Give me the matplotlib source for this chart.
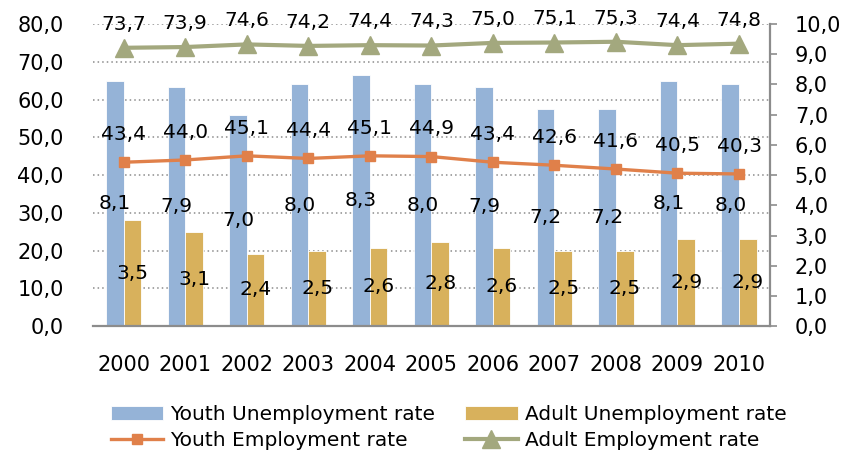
import numpy as np
import matplotlib
matplotlib.use("Agg")
import matplotlib.pyplot as plt

years = ['2000', '2001', '2002', '2003', '2004', '2005', '2006', '2007', '2008', '2009', '2010']
youth_unemp = [8.1, 7.9, 7.0, 8.0, 8.3, 8.0, 7.9, 7.2, 7.2, 8.1, 8.0]
adult_unemp = [3.5, 3.1, 2.4, 2.5, 2.6, 2.8, 2.6, 2.5, 2.5, 2.9, 2.9]
youth_emp = [43.4, 44.0, 45.1, 44.4, 45.1, 44.9, 43.4, 42.6, 41.6, 40.5, 40.3]
adult_emp = [73.7, 73.9, 74.6, 74.2, 74.4, 74.3, 75.0, 75.1, 75.3, 74.4, 74.8]

c_blue = '#95B3D7'
c_gold = '#D8B15C'
c_orange = '#E0804A'
c_olive = '#A3A87E'
c_axis = '#8C8C8C'

plt.rcParams['font.family'] = ['DejaVu Sans']

def fmt(v):
    return f"{v:.1f}".replace('.', ',')

fig = plt.figure(figsize=(8.45, 4.53), dpi=100)
ax = fig.add_axes([0.110, 0.280, 0.801, 0.667])  # bars, right-hand scale
ax2 = ax.twinx()                                  # lines, left-hand scale

ind = np.arange(len(years))
w = 0.285

b1 = ax.bar(ind - w / 2, youth_unemp, w, color=c_blue, edgecolor='white', linewidth=0.6,
            label='Youth Unemployment rate', zorder=2)
b2 = ax.bar(ind + w / 2, adult_unemp, w, color=c_gold, edgecolor='white', linewidth=0.6,
            label='Adult Unemployment rate', zorder=2)
ax.bar_label(b1, labels=[fmt(v) for v in youth_unemp], label_type='center', fontsize=14.5)
ax.bar_label(b2, labels=[fmt(v) for v in adult_unemp], label_type='center', fontsize=14.5)

ax.set_xlim(-0.5, len(years) - 0.5)
ax.set_ylim(0, 10)
ax.yaxis.tick_right()
ax.yaxis.remove_overlapping_locs = False
ax.set_yticks(np.arange(0, 10.01, 1))
ax.set_yticklabels([fmt(v) for v in np.arange(0, 10.01, 1)])
# gridlines follow the left (0-80) scale
ax.set_yticks(np.arange(1.25, 10.01, 1.25), minor=True)
ax.grid(which='minor', axis='y', linestyle=(0, (1, 2)), color=c_axis, linewidth=1.1, zorder=0)
ax.tick_params(axis='y', which='minor', length=0)
ax.tick_params(axis='y', which='major', direction='out', length=5, color=c_axis,
               labelsize=15, pad=13, width=1.2)
ax.set_xticks(ind)
ax.set_xticklabels(years)
ax.tick_params(axis='x', length=0, labelsize=15, pad=21)
ax.set_axisbelow(True)
for s in ['top', 'left']:
    ax.spines[s].set_visible(False)
for s in ['right', 'bottom']:
    ax.spines[s].set_color(c_axis)
    ax.spines[s].set_linewidth(1.6)

l1, = ax2.plot(ind, youth_emp, color=c_orange, linewidth=2.4, marker='s', markersize=7,
               label='Youth Employment rate', zorder=3)
l2, = ax2.plot(ind, adult_emp, color=c_olive, linewidth=3, marker='^', markersize=13,
               label='Adult Employment rate', zorder=3)
for i, v in enumerate(youth_emp):
    ax2.annotate(fmt(v), (i, v), xytext=(0, 20), textcoords='offset points',
                 ha='center', va='center', fontsize=14.5)
for i, v in enumerate(adult_emp):
    ax2.annotate(fmt(v), (i, v), xytext=(0, 17), textcoords='offset points',
                 ha='center', va='center', fontsize=14.5)

ax2.set_ylim(0, 80)
ax2.yaxis.tick_left()
ax2.set_yticks(np.arange(0, 80.1, 10))
ax2.set_yticklabels([fmt(v) for v in np.arange(0, 80.1, 10)])
ax2.tick_params(axis='y', length=0, labelsize=15, pad=21)
for s in ax2.spines.values():
    s.set_visible(False)

fig.legend([b1, l1, b2, l2],
           ['Youth Unemployment rate', 'Youth Employment rate',
            'Adult Unemployment rate', 'Adult Employment rate'],
           ncol=2, loc='upper left', bbox_to_anchor=(0.119, 0.128),
           frameon=False, fontsize=14.5, handlelength=2.6, handletextpad=0.35,
           columnspacing=1.5, labelspacing=0.33, borderpad=0, numpoints=1)

fig.savefig('out.png', dpi=100)
